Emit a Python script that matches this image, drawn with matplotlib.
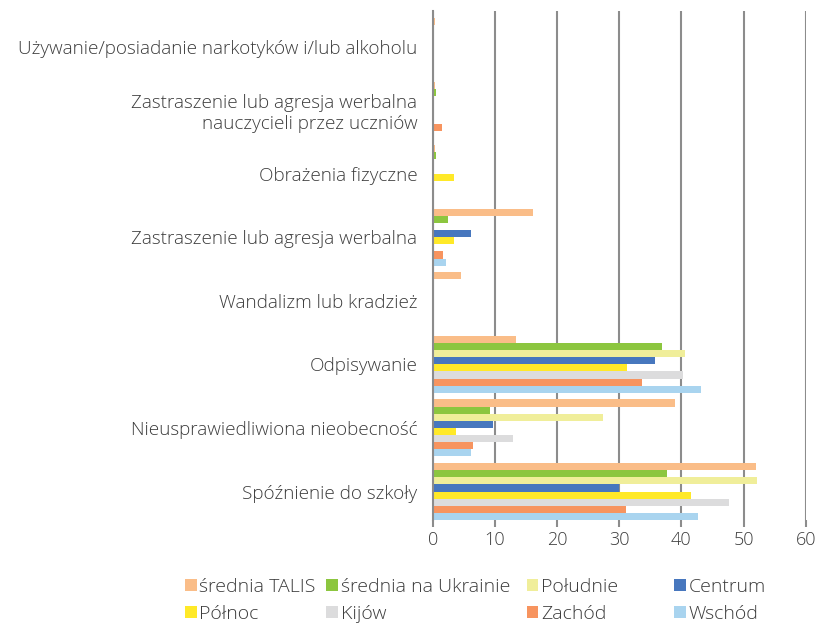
import matplotlib.pyplot as plt
import numpy as np

plt.rcParams['font.family'] = ['Open Sans', 'DejaVu Sans']

categories = [
    "Używanie/posiadanie narkotyków i/lub alkoholu",
    "Zastraszenie lub agresja werbalna\nnauczycieli przez uczniów",
    "Obrażenia fizyczne",
    "Zastraszenie lub agresja werbalna",
    "Wandalizm lub kradzież",
    "Odpisywanie",
    "Nieusprawiedliwiona nieobecność",
    "Spóźnienie do szkoły",
]

series_names = ["średnia TALIS", "średnia na Ukrainie", "Południe", "Centrum",
                "Północ", "Kijów", "Zachód", "Wschód"]
colors = ["#FABD88", "#8CC63F", "#F0EE9A", "#4777BE",
          "#FFE928", "#DCDCDD", "#F7945F", "#A9D4EF"]

talis = [0.4, 0.4, 0.4, 16.1, 4.5, 13.4, 39.0, 52.0]
ukraina = [0.0, 0.5, 0.5, 2.5, 0.0, 36.9, 9.2, 37.7]
poludnie = [0.0, 0.0, 0.0, 0.0, 0.0, 40.6, 27.4, 52.1]
centrum = [0.0, 0.0, 0.0, 6.1, 0.0, 35.7, 9.7, 30.0]
polnoc = [0.0, 0.0, 3.4, 3.4, 0.0, 31.2, 3.7, 41.5]
kijow = [0.0, 0.0, 0.0, 0.0, 0.0, 40.2, 12.9, 47.6]
zachod = [0.0, 1.5, 0.0, 1.7, 0.0, 33.6, 6.5, 31.1]
wschod = [0.0, 0.0, 0.0, 2.1, 0.0, 43.1, 6.1, 42.7]

series = [talis, ukraina, poludnie, centrum, polnoc, kijow, zachod, wschod]

txt_col = "#3c3c3c"

fig = plt.figure(figsize=(8.18, 6.24), dpi=100)
ax = fig.add_axes([0.529, 0.167, 0.456, 0.815])

y = np.arange(len(categories))
h = 0.112
bars = []
for j, (vals, name, col) in enumerate(zip(series, series_names, colors)):
    b = ax.barh(y + (j - 3.5) * h, vals, height=h, color=col, label=name, zorder=3)
    bars.append(b)

ax.set_xlim(0, 60)
ax.set_ylim(len(categories) - 0.5 - 0.055, -0.5 - 0.055)
ax.set_xticks(range(0, 61, 10))
ax.set_yticks(y)
ax.set_yticklabels(categories, fontsize=13.6, color=txt_col, ha="right",
                   fontweight="light")
ax.tick_params(axis="y", length=0, pad=11)
ax.tick_params(axis="x", length=5, width=1.5, color="#8c8c8c", labelsize=13,
               labelcolor=txt_col, pad=3)
for t in ax.get_xticklabels():
    t.set_fontweight("light")
ax.xaxis.grid(True, color="#8c8c8c", linewidth=1.5, zorder=0)
for s in ["top", "right", "bottom"]:
    ax.spines[s].set_visible(False)
ax.spines["left"].set_color("#8c8c8c")
ax.spines["left"].set_linewidth(1.5)
ax.spines["left"].set_zorder(4)

# legend: four columns placed separately
col_x = [0.226, 0.3985, 0.644, 0.824]
pairs = [(0, 4), (1, 5), (2, 6), (3, 7)]
for x0, (a, b) in zip(col_x, pairs):
    leg = fig.legend([bars[a], bars[b]], [series_names[a], series_names[b]],
                     loc="upper left", bbox_to_anchor=(x0, 0.074), frameon=False,
                     prop={"size": 14, "weight": "light"},
                     handlelength=0.6, handleheight=0.6,
                     handletextpad=0.15, labelspacing=0.45, borderaxespad=0,
                     borderpad=0)
    for t in leg.get_texts():
        t.set_color(txt_col)

fig.savefig("out.png", dpi=100)
